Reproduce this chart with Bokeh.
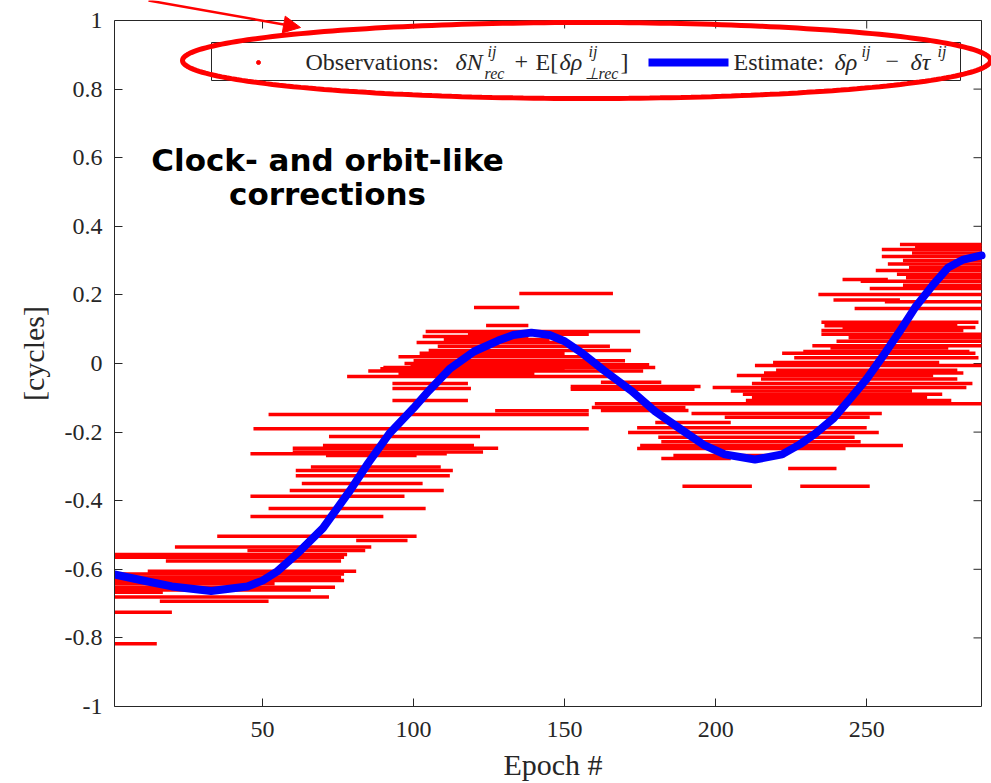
import numpy as np
from bokeh.plotting import figure
from bokeh.models import (FixedTicker, BoxAnnotation, Label, Arrow,
                          NormalHead, PolyAnnotation, Range1d, ColumnDataSource)
from bokeh.embed import file_html
from bokeh.resources import INLINE

# ---------------- data ----------------
x_ticks = [50, 100, 150, 200, 250]
y_ticks = [-1, -0.8, -0.6, -0.4, -0.2, 0, 0.2, 0.4, 0.6, 0.8, 1]
y_tick_labels = ["-1", "-0.8", "-0.6", "-0.4", "-0.2", "0", "0.2", "0.4", "0.6", "0.8", "1"]

# observation arcs: start epoch, end epoch, value [cycles]
obs_start = [35, 81, 21, 45, 1, 1, 18, 12, 1, 1, 1, 1, 1, 1, 1, 1, 16, 1, 1,
             46, 52, 46, 59, 63, 61, 61, 66, 71, 46, 60, 60, 70, 72, 47, 52, 127,
             93, 93, 93, 78, 85, 90, 99, 100, 95, 105, 101, 103, 104, 124, 120, 135,
             97, 102, 108, 110, 118, 95, 89,
             162, 152, 152, 160, 159, 162, 192, 203, 180, 174, 171, 181, 182, 175,
             174, 186, 182, 224, 189, 228,
             199, 212, 209, 205, 212, 207, 215, 220, 213, 219, 226, 232, 238, 240,
             244, 235, 235, 242, 236, 235, 246, 256, 239, 234, 251, 248, 242, 260,
             253, 257, 255, 255, 261,
             216, 222, 229, 210, 262, 263, 264, 262, 265, 266]
obs_end = [101, 98, 86, 84, 78, 77, 76, 81, 77, 76, 77, 54, 74, 66, 17, 72, 52, 20, 15,
           90, 104, 97, 110, 103, 112, 113, 109, 101, 111, 123, 128, 120, 122, 158, 158, 158,
           118, 119, 118, 165, 176, 180, 178, 170, 157, 172, 149, 138, 175, 138, 135, 166,
           160, 150, 165, 145, 158, 140, 150,
           182, 195, 193, 288, 190, 191, 255, 251, 205, 250, 254, 246, 248, 262,
           243, 223, 205, 240, 212, 251,
           283, 285, 275, 265, 270, 272, 280, 280, 288, 274, 287, 288, 277, 288,
           288, 288, 282, 286, 280, 287, 288, 288, 261, 288, 288, 288, 257, 288,
           288, 288, 288, 288, 288,
           282, 286, 284, 278, 288, 288, 288, 288, 288, 288]
obs_value = [-0.504, -0.516, -0.535, -0.545, -0.557, -0.565, -0.576, -0.606, -0.614, -0.623,
             -0.633, -0.642, -0.652, -0.660, -0.667, -0.681, -0.693, -0.725, -0.817,
             -0.446, -0.423, -0.387, -0.370, -0.350, -0.327, -0.312, -0.302, -0.268, -0.263,
             -0.258, -0.247, -0.239, -0.213, -0.190, -0.149, -0.138,
             -0.108, -0.073, -0.058, -0.038, -0.022, -0.012, -0.004, 0.008, 0.020, 0.038,
             0.061, 0.079, 0.093, 0.111, 0.163, 0.204,
             0.000, 0.030, 0.050, 0.070, 0.085, -0.030, -0.015,
             -0.055, -0.067, -0.075, -0.117, -0.128, -0.137, -0.146, -0.157, -0.172, -0.187,
             -0.201, -0.215, -0.228, -0.239, -0.248, -0.268, -0.277, -0.306, -0.358, -0.358,
             -0.070, -0.058, -0.090, -0.080, -0.100, -0.035, -0.045, -0.020, -0.006, 0.003,
             0.017, 0.052, 0.045, 0.065, 0.075, 0.085, 0.096, 0.105, 0.110, 0.120, 0.160,
             0.180, 0.185, 0.201, 0.219, 0.240, 0.245, 0.260, 0.271, 0.290, 0.312, 0.332, 0.347,
             -0.028, 0.030, 0.035, -0.108, 0.228, 0.250, 0.280, 0.300, 0.322, 0.340]

# estimate curve
est_epoch = [1, 10, 20, 33, 45, 50, 55, 62, 70, 79, 85, 92, 100, 105, 112, 120, 128, 133,
             139, 145, 150, 156, 163, 172, 180, 189, 196, 203, 213, 222, 228, 233, 239,
             244, 250, 255, 261, 266, 272, 277, 282, 288]
est_value = [-0.615, -0.632, -0.650, -0.663, -0.650, -0.633, -0.605, -0.550, -0.480, -0.370,
             -0.290, -0.204, -0.130, -0.080, -0.015, 0.035, 0.067, 0.083, 0.090, 0.083,
             0.065, 0.029, -0.020, -0.079, -0.140, -0.195, -0.237, -0.265, -0.280, -0.265,
             -0.235, -0.204, -0.160, -0.108, -0.045, 0.017, 0.095, 0.163, 0.230, 0.280,
             0.303, 0.315]

# ---------------- layout (page pixels) ----------------
XMIN, XMAX, YMIN, YMAX = 1, 288, -1, 1
BOX_L, BOX_T, BOX_R, BOX_B = 114, 20, 981, 706      # axes box on the page
KX = (BOX_R - BOX_L) / (XMAX - XMIN)                 # px per epoch
KY = (BOX_B - BOX_T) / (YMAX - YMIN)                 # px per cycle
W, H = 991, 781
VX0, VX1 = XMIN, XMAX + (W - BOX_R) / KX             # frame extends to canvas edge
VY0, VY1 = YMIN, YMAX + BOX_T / KY                   # frame extends to canvas top


def X(px):
    return XMIN + (px - BOX_L) / KX


def Y(py):
    return YMAX - (py - BOX_T) / KY


SERIF = "'Liberation Serif', 'Times New Roman', serif"
AX = "#262626"

p = figure(frame_width=W - BOX_L, frame_height=BOX_B, x_range=Range1d(VX0, VX1),
           y_range=Range1d(VY0, VY1), output_backend="svg", toolbar_location=None,
           min_border_left=BOX_L, min_border_right=0, min_border_top=0,
           min_border_bottom=H - BOX_B, background_fill_color="white",
           border_fill_color="white", outline_line_color=None)
p.xgrid.visible = False
p.ygrid.visible = False

p.xaxis.ticker = FixedTicker(ticks=x_ticks)
p.yaxis.ticker = FixedTicker(ticks=y_ticks)
p.yaxis.major_label_overrides = {t: l for t, l in zip(y_ticks, y_tick_labels)}
p.xaxis.bounds = (XMIN, XMAX)
p.yaxis.bounds = (YMIN, YMAX)
for ax in (p.xaxis[0], p.yaxis[0]):
    ax.major_tick_in = 8
    ax.major_tick_out = 0
    ax.minor_tick_line_color = None
    ax.axis_line_color = AX
    ax.major_tick_line_color = AX
    ax.major_label_text_font = SERIF
    ax.major_label_text_font_size = "24px"
    ax.major_label_text_color = AX
    ax.axis_label_text_font = SERIF
    ax.axis_label_text_font_size = "30px"
    ax.axis_label_text_font_style = "normal"
    ax.axis_label_text_color = AX
p.xaxis.axis_label = "Epoch #"
p.yaxis.axis_label = "[cycles]"
p.xaxis.major_label_standoff = 15
p.yaxis.major_label_standoff = 12
p.xaxis.axis_label_standoff = 8
p.yaxis.axis_label_standoff = 12

# top and right sides of the axes box, with inward ticks
p.segment(x0=[XMIN, XMAX], y0=[YMAX, YMIN], x1=[XMAX, XMAX], y1=[YMAX, YMAX],
          line_color=AX, line_width=1)
p.segment(x0=x_ticks, y0=[YMAX] * len(x_ticks), x1=x_ticks,
          y1=[YMAX - 8 / KY] * len(x_ticks), line_color=AX, line_width=1)
p.segment(x0=[XMAX] * len(y_ticks), y0=y_ticks, x1=[XMAX - 8 / KX] * len(y_ticks),
          y1=y_ticks, line_color=AX, line_width=1)

# ---------------- data marks ----------------
src = ColumnDataSource(dict(x0=obs_start, x1=obs_end, y=obs_value))
p.segment(x0="x0", y0="y", x1="x1", y1="y", source=src, line_color="#FF0000",
          line_width=3.5, line_cap="butt")
p.line(est_epoch, est_value, line_color="#0000FF", line_width=8, line_join="round",
       line_cap="round")

# ---------------- legend (manual, with math scripts) ----------------
p.add_layout(BoxAnnotation(left=X(211), right=X(960), top=Y(42), bottom=Y(80),
                           fill_color="white", fill_alpha=1, line_color=AX, line_width=1,
                           line_alpha=1, level="underlay"))
p.scatter([X(258)], [Y(62)], size=4, color="#FF0000")
p.line([X(648), X(728)], [Y(62), Y(62)], line_width=8, color="#0000FF")

BASE, SUP, SUB = 61, 51, 73
pieces = [
    ("Observations:", 305, BASE, "normal", 24),
    ("δN", 455, BASE, "italic", 24),
    ("ij", 487, SUP, "italic", 16),
    ("rec", 484, SUB, "italic", 16),
    ("+", 514, BASE, "normal", 24),
    ("E[", 535, BASE, "normal", 24),
    ("δρ", 559, BASE, "italic", 24),
    ("ij", 588, SUP, "italic", 16),
    ("⊥rec", 584, SUB, "italic", 16),
    ("]", 620, BASE, "normal", 24),
    ("Estimate:", 733, BASE, "normal", 24),
    ("δρ", 834, BASE, "italic", 24),
    ("ij", 861, SUP, "italic", 16),
    ("−", 885, BASE, "normal", 24),
    ("δτ", 910, BASE, "italic", 24),
    ("ij", 937, SUP, "italic", 16),
]
for txt, px, py, style, fs in pieces:
    p.add_layout(Label(x=X(px), y=Y(py), text=txt, text_font=SERIF,
                       text_font_style=style, text_font_size=f"{fs}px", text_color=AX,
                       text_baseline="middle", text_align="left"))

# ---------------- annotations ----------------
t = np.linspace(0, 2 * np.pi, 241)
cx, cy, rx, ry = 586, 60, 404, 38
p.add_layout(PolyAnnotation(xs=[X(cx + rx * np.cos(a)) for a in t],
                            ys=[Y(cy + ry * np.sin(a)) for a in t],
                            fill_color=None, fill_alpha=0, line_color="#FF0000",
                            line_alpha=1, line_width=5))
p.add_layout(Arrow(x_start=X(148), y_start=Y(0), x_end=X(300), y_end=Y(27),
                   line_color="#FF0000", line_width=2.5,
                   end=NormalHead(size=17, fill_color="#FF0000", line_color="#FF0000")))

for txt, py in (("Clock- and orbit-like", 159), ("corrections", 193)):
    p.add_layout(Label(x=X(327), y=Y(py), text=txt, text_font="DejaVu Sans",
                       text_font_style="bold", text_font_size="31px", text_color="black",
                       text_align="center", text_baseline="middle"))

open("out.html", "w").write(file_html(p, INLINE))
